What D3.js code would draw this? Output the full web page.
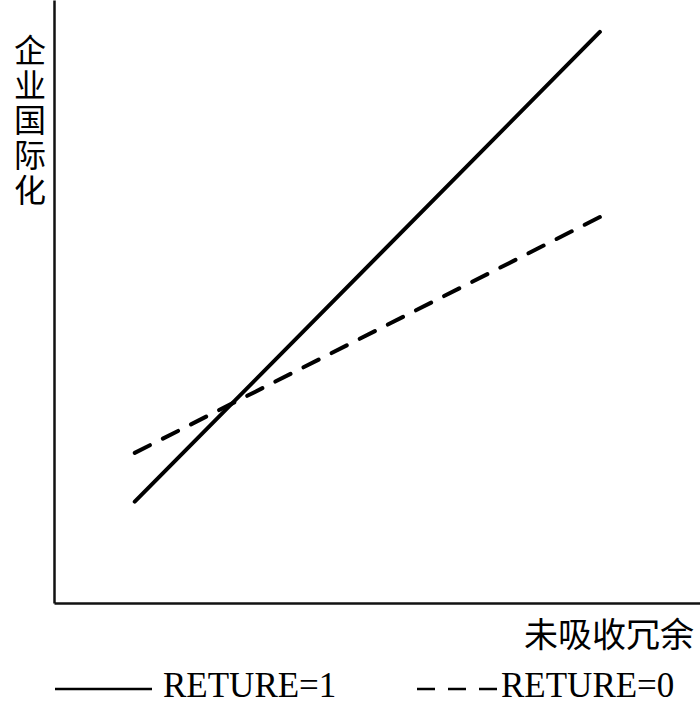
<!DOCTYPE html>
<html>
<head>
<meta charset="utf-8">
<script src="https://cdn.jsdelivr.net/npm/d3@7"></script>
<style>
  body { margin: 0; background: #fff; }
  svg { display: block; }
</style>
</head>
<body>
<svg id="chart" width="700" height="709"></svg>
<script>
// x positions (low / high redundancy) and the two fitted lines
const xValues = [1.25, 8.45]
const returnOne = [1.68, 9.47]
const returnZero = [2.49, 6.4]

const seriesNames = ["RETURE=1", "RETURE=0"]
const yTitle = "企业国际化"
const xTitle = "未吸收冗余"

const serifFont = "'Times New Roman', Times, 'Liberation Serif', Tinos, 'DejaVu Serif', serif"
const cjkFont = "'Noto Sans CJK SC', sans-serif"

const width = 700
const height = 709
const margin = { top: 0, right: 0, bottom: 106, left: 54 }

const svg = d3.select("#chart")

const xScale = d3.scaleLinear()
  .domain([0, 10])
  .range([margin.left, width - margin.right])

const yScale = d3.scaleLinear()
  .domain([0, 10])
  .range([height - margin.bottom, margin.top])

// axes: plain lines, no ticks
svg.append("g")
  .attr("transform", `translate(0,${height - margin.bottom})`)
  .call(d3.axisBottom(xScale).tickValues([]).tickSizeOuter(0))
  .select(".domain")
  .attr("stroke", "#111")
  .attr("stroke-width", 2.5)

svg.append("g")
  .attr("transform", `translate(${margin.left},0)`)
  .call(d3.axisLeft(yScale).tickValues([]).tickSizeOuter(0))
  .select(".domain")
  .attr("stroke", "#111")
  .attr("stroke-width", 2.5)

const line = d3.line()
  .x((d, i) => xScale(xValues[i]))
  .y(d => yScale(d))

// RETURE=1 solid
svg.append("path")
  .datum(returnOne)
  .attr("d", line)
  .attr("fill", "none")
  .attr("stroke", "#000")
  .attr("stroke-width", 4)
  .attr("stroke-linecap", "round")

// RETURE=0 dashed, pattern sized so the line ends on a dash
const dashed = svg.append("path")
  .datum(returnZero)
  .attr("d", line)
  .attr("fill", "none")
  .attr("stroke", "#000")
  .attr("stroke-width", 4)
  .attr("stroke-linecap", "round")

const len = dashed.node().getTotalLength()
const dash = 17
const period = (len - dash) / 16
dashed.attr("stroke-dasharray", `${dash},${period - dash}`)

// y title, vertical
svg.append("text")
  .attr("x", 30)
  .attr("y", 34)
  .style("font-family", cjkFont)
  .style("font-size", "32px")
  .style("letter-spacing", "3px")
  .style("writing-mode", "vertical-rl")
  .attr("fill", "#000")
  .text(yTitle)

// x title
svg.append("text")
  .attr("x", 694)
  .attr("y", 647)
  .attr("text-anchor", "end")
  .style("font-family", cjkFont)
  .style("font-size", "34px")
  .attr("fill", "#000")
  .text(xTitle)

// legend
const legend = svg.append("g")

legend.append("line")
  .attr("x1", 55).attr("x2", 152)
  .attr("y1", 689).attr("y2", 689)
  .attr("stroke", "#000")
  .attr("stroke-width", 2.5)

legend.append("text")
  .attr("x", 163)
  .attr("y", 697)
  .style("font-family", serifFont)
  .style("font-size", "35px")
  .attr("fill", "#000")
  .text(seriesNames[0])

legend.append("line")
  .attr("x1", 417).attr("x2", 500)
  .attr("y1", 689).attr("y2", 689)
  .attr("stroke", "#000")
  .attr("stroke-width", 2.5)
  .attr("stroke-dasharray", "18,13")

legend.append("text")
  .attr("x", 501)
  .attr("y", 697)
  .style("font-family", serifFont)
  .style("font-size", "35px")
  .attr("fill", "#000")
  .text(seriesNames[1])
</script>
</body>
</html>
